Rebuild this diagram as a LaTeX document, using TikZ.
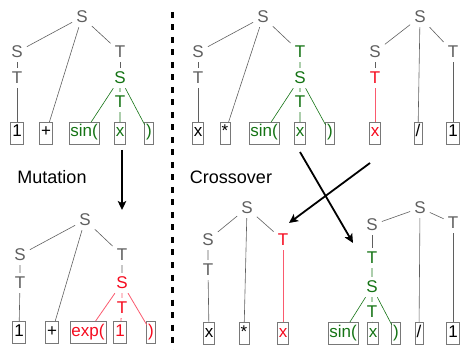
\documentclass[tikz,border=0pt]{standalone}
\usepackage{fontspec}
\setsansfont{Liberation Sans}
\usetikzlibrary{arrows.meta}

\definecolor{symgray}{RGB}{95,95,95}
\definecolor{boxgray}{RGB}{120,120,120}
\definecolor{gpgreen}{RGB}{20,115,20}
\definecolor{gpred}{RGB}{245,10,30}
\definecolor{gpredline}{RGB}{250,90,110}

\begin{document}
\begin{tikzpicture}[
    x=1pt, y=-1pt,
    font=\sffamily\fontsize{17}{19}\selectfont,
    >={Stealth[length=9pt,width=8.5pt,inset=2pt]},
    % styles
    sym/.style={text=symgray, inner sep=4pt},
    symg/.style={sym, text=gpgreen},
    symr/.style={sym, text=gpred},
    leaf/.style={draw=boxgray, line width=0.6pt, rectangle, inner xsep=1.5pt, inner ysep=3pt,
                 text height=12pt, text depth=4pt, outer sep=0pt},
    leafg/.style={leaf, text=gpgreen},
    leafr/.style={leaf, text=gpred},
    edge/.style={draw=symgray, line width=0.6pt},
    edgeg/.style={draw=gpgreen, line width=0.6pt},
    edger/.style={draw=gpredline, line width=0.8pt},
    oplabel/.style={font=\sffamily\fontsize{18}{20}\selectfont},
    op/.style={draw, ->, line width=1.8pt}
]
    \useasboundingbox (0,0) rectangle (461,350);

    % --- 1. Parent before mutation (top left) ---
    \node[sym]  (sA)  at (82,17)  {S};
    \node[sym]  (sA1) at (17,52)  {S};
    \node[sym]  (tA1) at (17,78)  {T};
    \node[sym]  (tA2) at (120,52) {T};
    \node[symg] (sA2) at (120,78) {S};
    \node[symg] (tA3) at (120,102) {T};
    \node[leaf]  (lA1) at (17,133)  {1};
    \node[leaf]  (lA2) at (46,133)  {+};
    \node[leafg] (lA3) at (84,133)  {sin(};
    \node[leafg] (lA4) at (120,133) {x};
    \node[leafg] (lA5) at (149,133) {)};

    \draw[edge] (sA) -- (sA1) (sA) -- (lA2) (sA) -- (tA2);
    \draw[edge] (sA1) -- (tA1) (tA1) -- (lA1) (tA2) -- (sA2);
    \draw[edgeg] (sA2) -- (tA3) (tA3) -- (lA4) (sA2) -- (lA3) (sA2) -- (lA5);

    % --- 2. Parents before crossover (top right) ---
    \node[sym]  (sB)  at (263,17)  {S};
    \node[sym]  (sB1) at (198,52)  {S};
    \node[sym]  (tB1) at (198,78)  {T};
    \node[symg] (tB2) at (300,52)  {T};
    \node[symg] (sB2) at (300,78)  {S};
    \node[symg] (tB3) at (300,102) {T};
    \node[leaf]  (lB1) at (198,133) {x};
    \node[leaf]  (lB2) at (225,133) {*};
    \node[leafg] (lB3) at (264,133) {sin(};
    \node[leafg] (lB4) at (300,133) {x};
    \node[leafg] (lB5) at (330,133) {)};

    \draw[edge] (sB) -- (sB1) (sB) -- (lB2) (sB) -- (tB2);
    \draw[edge] (sB1) -- (tB1) (tB1) -- (lB1);
    \draw[edgeg] (tB2) -- (sB2) (sB2) -- (tB3) (tB3) -- (lB4) (sB2) -- (lB3) (sB2) -- (lB5);

    \node[sym]  (sC)  at (420,17) {S};
    \node[sym]  (sC1) at (375,52) {S};
    \node[symr] (tC1) at (375,78) {T};
    \node[sym]  (tC2) at (453,52) {T};
    \node[leafr] (lC1) at (375,133) {x};
    \node[leaf]  (lC2) at (418,133) {/};
    \node[leaf]  (lC3) at (453,133) {1};

    \draw[edge] (sC) -- (sC1) (sC) -- (lC2) (sC) -- (tC2);
    \draw[edge] (sC1) -- (tC1) (tC2) -- (lC3);
    \draw[edger] (tC1) -- (lC1);

    % --- 3. Child after mutation (bottom left) ---
    \node[sym]  (sD)  at (85,220)  {S};
    \node[sym]  (sD1) at (20,255)  {S};
    \node[sym]  (tD1) at (20,283)  {T};
    \node[sym]  (tD2) at (122,255) {T};
    \node[symr] (sD2) at (122,283) {S};
    \node[symr] (tD3) at (122,308) {T};
    \node[leaf]  (lD1) at (19,332)  {1};
    \node[leaf]  (lD2) at (52,332)  {+};
    \node[leafr] (lD3) at (88,332)  {exp(};
    \node[leafr] (lD4) at (120,332) {1};
    \node[leafr] (lD5) at (151,332) {)};

    \draw[edge] (sD) -- (sD1) (sD) -- (lD2) (sD) -- (tD2);
    \draw[edge] (sD1) -- (tD1) (tD1) -- (lD1) (tD2) -- (sD2);
    \draw[edger] (sD2) -- (tD3) (tD3) -- (lD4) (sD2) -- (lD3) (sD2) -- (lD5);

    % --- 4. Children after crossover (bottom right) ---
    \node[sym]  (sE)  at (247,208) {S};
    \node[sym]  (sE1) at (208,240) {S};
    \node[sym]  (tE1) at (208,270) {T};
    \node[symr] (tE2) at (283,240) {T};
    \node[leaf]  (lE1) at (209,333) {x};
    \node[leaf]  (lE2) at (244,333) {*};
    \node[leafr] (lE3) at (283,333) {x};

    \draw[edge] (sE) -- (sE1) (sE) -- (lE2) (sE) -- (tE2);
    \draw[edge] (sE1) -- (tE1) (tE1) -- (lE1);
    \draw[edger] (tE2) -- (lE3);

    \node[sym]  (sF)  at (420,208) {S};
    \node[sym]  (sF1) at (372,225) {S};
    \node[symg] (tF1) at (372,258) {T};
    \node[symg] (sF2) at (372,287) {S};
    \node[symg] (tF2) at (372,312) {T};
    \node[sym]  (tF3) at (453,223) {T};
    \node[leafg] (lF1) at (343,333) {sin(};
    \node[leafg] (lF2) at (373,333) {x};
    \node[leafg] (lF3) at (396,333) {)};
    \node[leaf]  (lF4) at (419,333) {/};
    \node[leaf]  (lF5) at (453,333) {1};

    \draw[edge] (sF) -- (sF1) (sF) -- (lF4) (sF) -- (tF3);
    \draw[edge] (tF3) -- (lF5) (sF1) -- (tF1);
    \draw[edgeg] (tF1) -- (sF2) (sF2) -- (tF2) (tF2) -- (lF2) (sF2) -- (lF1) (sF2) -- (lF3);

    % --- 5. Operators ---
    \node[oplabel] (mutlabel) at (52,177)  {Mutation};
    \node[oplabel] (crolabel) at (231,177) {Crossover};

    \coordinate (mutfrom) at (122,150);
    \coordinate (mutto)   at (122,210);
    \draw[op] (mutfrom) -- (mutto);

    \coordinate (crofrom1) at (300,152);
    \coordinate (croto1)   at (353,243);
    \coordinate (crofrom2) at (370,163);
    \coordinate (croto2)   at (289,223);
    \draw[op] (crofrom1) -- (croto1);
    \draw[op] (crofrom2) -- (croto2);

    % divider
    \coordinate (divtop) at (172,12);
    \coordinate (divbot) at (172,350);
    \draw[line width=3pt, dash pattern=on 6pt off 6.5pt] (divtop) -- (divbot);

\end{tikzpicture}
\end{document}
